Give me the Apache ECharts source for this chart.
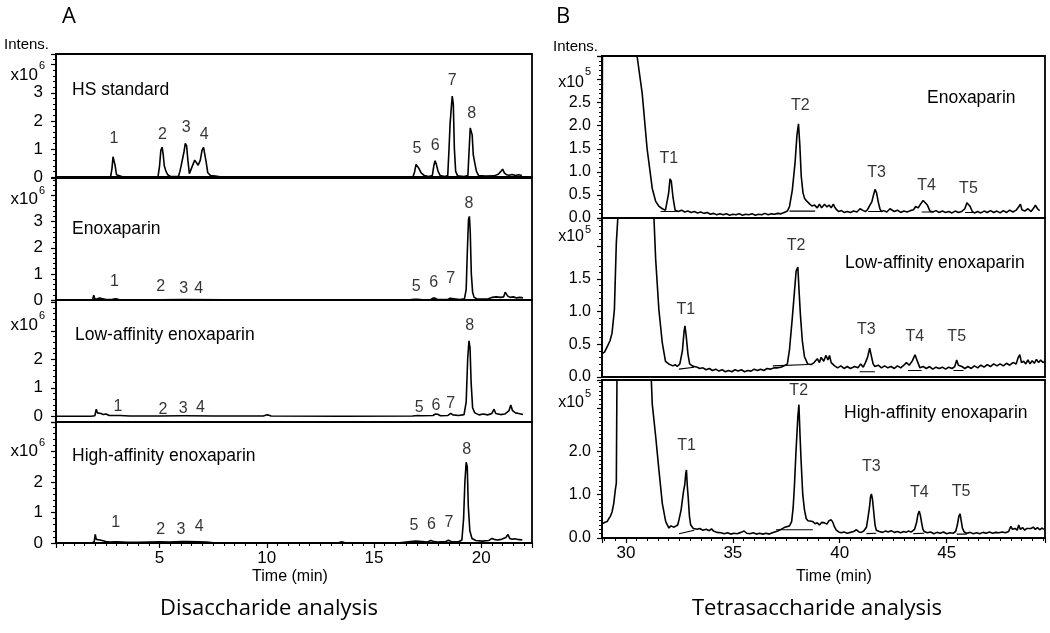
<!DOCTYPE html>
<html><head><meta charset="utf-8">
<script src="https://cdn.jsdelivr.net/npm/echarts/dist/echarts.min.js"></script>
<style>html,body{margin:0;padding:0;background:#fff}#c{width:1050px;height:633px}</style>
</head><body><div id="c"></div>
<script>
// ---------------- DATA ----------------
// Disaccharide analysis (time min, intensity x10^6)
const hsStandard = [[0.2,0],[1.0,0],[1.8,0.01],[2.6,0],[2.72,0.02],[2.78,0.3],[2.83,0.72],[2.88,0.73],[2.93,0.4],[2.99,0.08],[3.08,0.02],[3.3,0],[4.6,0],[4.93,0.02],[5.0,0.4],[5.06,0.95],[5.12,1.06],[5.17,0.8],[5.22,0.4],[5.3,0.2],[5.38,0.08],[5.5,0.02],[5.88,0.02],[5.95,0.2],[6.02,0.45],[6.08,0.5],[6.14,0.9],[6.2,1.2],[6.26,1.12],[6.32,0.6],[6.39,0.12],[6.46,0.1],[6.56,0.45],[6.64,0.6],[6.7,0.55],[6.8,0.42],[6.9,0.6],[6.98,0.95],[7.05,1.06],[7.11,1.0],[7.17,0.55],[7.25,0.15],[7.38,0.05],[7.6,0.03],[7.9,0],[12,0],[16.6,0],[16.82,0.01],[16.9,0.2],[16.96,0.45],[17.02,0.48],[17.1,0.3],[17.2,0.15],[17.35,0.05],[17.55,0.02],[17.72,0.05],[17.79,0.4],[17.85,0.58],[17.91,0.45],[17.99,0.2],[18.09,0.05],[18.3,0.02],[18.44,0.05],[18.5,1.0],[18.55,1.9],[18.6,2.4],[18.65,2.88],[18.7,2.6],[18.75,1.0],[18.81,0.2],[18.9,0.04],[19.2,0.02],[19.38,0.05],[19.44,1.0],[19.49,1.75],[19.54,1.82],[19.58,1.5],[19.63,0.8],[19.7,0.5],[19.78,0.2],[19.88,0.05],[20.2,0.03],[20.6,0.04],[20.8,0.1],[20.92,0.2],[21.0,0.28],[21.08,0.15],[21.18,0.08],[21.3,0.06],[21.45,0.09],[21.6,0.05],[21.75,0.08],[21.9,0.05]];
const enoxDi = [[0.2,0],[1.7,0],[1.88,0.02],[1.93,0.18],[1.98,0.05],[2.08,0.04],[2.2,0.08],[2.28,0.03],[2.5,0.02],[2.8,0.03],[2.88,0.08],[2.96,0.05],[3.1,0.02],[4.0,0.01],[5.0,0.01],[6.05,0.02],[6.13,0.05],[6.2,0.02],[8,0.01],[12,0],[16.6,0],[16.85,0.03],[17.05,0.03],[17.25,0.01],[17.65,0.02],[17.75,0.07],[17.85,0.07],[17.95,0.02],[18.45,0.02],[18.55,0.07],[18.63,0.03],[19.0,0.02],[19.22,0.05],[19.3,0.4],[19.36,2.0],[19.41,3.1],[19.45,3.2],[19.49,2.6],[19.54,1.0],[19.6,0.3],[19.67,0.1],[19.8,0.05],[20.3,0.04],[20.5,0.1],[20.7,0.12],[20.9,0.1],[21.05,0.12],[21.12,0.3],[21.18,0.35],[21.24,0.15],[21.35,0.1],[21.5,0.12],[21.65,0.08],[21.8,0.1],[21.95,0.08]];
const lowDi = [[0.2,0],[1.8,0],[1.98,0.02],[2.05,0.25],[2.1,0.12],[2.18,0.08],[2.27,0.1],[2.37,0.06],[2.5,0.08],[2.65,0.03],[3.0,0.03],[3.08,0.07],[3.16,0.03],[3.6,0.01],[5.0,0.01],[6.02,0.02],[6.1,0.05],[6.2,0.02],[7.5,0.01],[9.85,0.01],[9.98,0.05],[10.1,0.04],[10.2,0.01],[13.5,0],[16.8,0.01],[17.05,0.03],[17.2,0.02],[17.75,0.03],[17.87,0.08],[17.97,0.07],[18.1,0.02],[18.45,0.03],[18.58,0.1],[18.68,0.05],[18.95,0.03],[19.2,0.06],[19.3,0.5],[19.37,2.0],[19.43,2.65],[19.48,2.4],[19.53,1.2],[19.6,0.3],[19.7,0.12],[19.9,0.05],[20.1,0.08],[20.3,0.05],[20.5,0.1],[20.6,0.25],[20.68,0.1],[20.9,0.06],[21.1,0.08],[21.3,0.2],[21.38,0.4],[21.46,0.2],[21.6,0.12],[21.75,0.1],[21.95,0.06]];
const highDi = [[0.2,0],[1.8,0],[1.95,0.03],[2.0,0.28],[2.05,0.12],[2.14,0.06],[2.22,0.1],[2.3,0.04],[2.5,0.05],[2.7,0.03],[2.9,0.04],[2.96,0.1],[3.04,0.04],[3.5,0.02],[4.0,0.02],[4.5,0.03],[5.0,0.04],[5.5,0.03],[6.0,0.05],[6.3,0.05],[6.8,0.04],[7.2,0.03],[7.5,0.01],[10,0.01],[13.35,0.01],[13.5,0.04],[13.65,0.01],[16.2,0.01],[16.6,0.04],[16.95,0.06],[17.25,0.05],[17.5,0.03],[17.65,0.08],[17.75,0.06],[17.95,0.03],[18.35,0.05],[18.47,0.09],[18.6,0.05],[18.95,0.04],[19.1,0.1],[19.18,0.8],[19.24,2.0],[19.3,2.65],[19.35,2.5],[19.4,1.2],[19.47,0.4],[19.57,0.15],[19.75,0.08],[20.05,0.06],[20.35,0.08],[20.5,0.15],[20.6,0.12],[20.75,0.1],[20.95,0.12],[21.15,0.18],[21.25,0.28],[21.33,0.15],[21.45,0.12],[21.55,0.14],[21.68,0.12],[21.8,0.11],[21.92,0.1]];

const hsPeakLabels = [['1',2.87,1.38],['2',5.13,1.5],['3',6.24,1.75],['4',7.08,1.5],['5',17.0,1.0],['6',17.85,1.13],['7',18.65,3.45],['8',19.56,2.25]];
const enoxDiLabels = [['1',2.9,0.7],['2',5.05,0.51],['3',6.13,0.45],['4',6.82,0.45],['5',16.97,0.51],['6',17.78,0.68],['7',18.58,0.81],['8',19.43,3.68]];
const lowDiLabels = [['1',3.06,0.34],['2',5.16,0.22],['3',6.1,0.28],['4',6.91,0.31],['5',17.11,0.31],['6',17.89,0.36],['7',18.58,0.43],['8',19.46,3.19]];
const highDiLabels = [['1',2.95,0.66],['2',5.05,0.44],['3',6.0,0.44],['4',6.85,0.53],['5',16.87,0.57],['6',17.68,0.6],['7',18.5,0.66],['8',19.33,3.08]];

// Tetrasaccharide analysis (time min, intensity x10^5)
const enoxTetra = [[28.88,0.35],[28.9,3.51],[30.52,3.51],[30.76,2.7],[30.99,1.5],[31.23,0.64],[31.39,0.36],[31.55,0.25],[31.7,0.2],[31.85,0.17],[31.93,0.2],[32.0,0.55],[32.06,0.85],[32.12,0.8],[32.2,0.45],[32.3,0.17],[32.45,0.14],[32.6,0.17],[32.75,0.13],[32.9,0.15],[33.05,0.12],[33.2,0.14],[33.35,0.11],[33.5,0.13],[33.65,0.1],[33.8,0.12],[33.95,0.08],[34.1,0.1],[34.25,0.07],[34.4,0.09],[34.55,0.07],[34.7,0.09],[34.85,0.06],[35.0,0.08],[35.15,0.07],[35.3,0.09],[35.45,0.06],[35.6,0.08],[35.75,0.07],[35.9,0.09],[36.05,0.06],[36.2,0.08],[36.35,0.07],[36.5,0.1],[36.65,0.07],[36.8,0.09],[36.95,0.08],[37.1,0.1],[37.25,0.09],[37.4,0.12],[37.55,0.15],[37.65,0.25],[37.78,0.6],[37.91,1.2],[38.0,1.8],[38.07,2.04],[38.13,1.6],[38.2,0.9],[38.28,0.55],[38.35,0.43],[38.43,0.38],[38.51,0.35],[38.6,0.3],[38.7,0.26],[38.82,0.28],[38.95,0.22],[39.05,0.3],[39.15,0.22],[39.29,0.3],[39.4,0.24],[39.5,0.28],[39.6,0.22],[39.7,0.3],[39.76,0.24],[39.85,0.18],[39.95,0.14],[40.08,0.16],[40.2,0.12],[40.35,0.14],[40.5,0.12],[40.65,0.15],[40.8,0.13],[40.95,0.2],[41.02,0.23],[41.1,0.16],[41.2,0.14],[41.3,0.18],[41.41,0.28],[41.5,0.35],[41.58,0.5],[41.65,0.62],[41.72,0.55],[41.8,0.35],[41.88,0.2],[41.95,0.14],[42.05,0.16],[42.2,0.13],[42.35,0.2],[42.42,0.16],[42.55,0.14],[42.7,0.17],[42.85,0.12],[43.0,0.15],[43.15,0.13],[43.3,0.16],[43.45,0.18],[43.55,0.25],[43.67,0.22],[43.78,0.3],[43.9,0.38],[43.99,0.4],[44.1,0.28],[44.22,0.15],[44.35,0.13],[44.5,0.16],[44.65,0.12],[44.8,0.15],[44.95,0.12],[45.1,0.14],[45.25,0.11],[45.4,0.15],[45.55,0.12],[45.7,0.14],[45.85,0.2],[45.95,0.33],[46.02,0.37],[46.1,0.25],[46.2,0.14],[46.3,0.11],[46.45,0.14],[46.6,0.11],[46.75,0.15],[46.9,0.12],[47.05,0.16],[47.2,0.12],[47.35,0.15],[47.5,0.11],[47.65,0.16],[47.8,0.12],[47.95,0.17],[48.1,0.13],[48.25,0.17],[48.38,0.25],[48.45,0.3],[48.52,0.18],[48.65,0.15],[48.8,0.2],[48.95,0.14],[49.08,0.22],[49.15,0.28],[49.25,0.2],[49.35,0.16]];
const lowTetra = [[28.88,0.36],[29.0,0.38],[29.12,0.46],[29.25,0.55],[29.35,0.67],[29.46,1.03],[29.55,2.05],[29.62,2.43],[31.31,2.43],[31.39,1.8],[31.54,1.03],[31.7,0.52],[31.85,0.24],[32.0,0.2],[32.09,0.21],[32.2,0.17],[32.3,0.19],[32.4,0.16],[32.52,0.2],[32.64,0.4],[32.72,0.7],[32.76,0.78],[32.82,0.62],[32.9,0.35],[32.98,0.2],[33.1,0.17],[33.2,0.16],[33.34,0.15],[33.45,0.13],[33.6,0.14],[33.75,0.11],[33.9,0.13],[34.05,0.1],[34.2,0.12],[34.35,0.09],[34.5,0.11],[34.65,0.08],[34.8,0.1],[34.95,0.08],[35.1,0.11],[35.25,0.09],[35.4,0.11],[35.55,0.08],[35.7,0.1],[35.85,0.09],[36.0,0.12],[36.15,0.1],[36.3,0.12],[36.45,0.1],[36.6,0.13],[36.75,0.12],[36.94,0.14],[37.1,0.14],[37.25,0.15],[37.4,0.17],[37.55,0.2],[37.65,0.42],[37.78,0.9],[37.88,1.3],[37.96,1.62],[38.04,1.68],[38.1,1.3],[38.16,0.95],[38.25,0.55],[38.35,0.31],[38.5,0.2],[38.66,0.19],[38.8,0.22],[38.95,0.28],[39.05,0.22],[39.13,0.3],[39.25,0.24],[39.35,0.33],[39.45,0.26],[39.52,0.33],[39.6,0.22],[39.76,0.17],[39.9,0.14],[40.05,0.17],[40.2,0.13],[40.35,0.16],[40.5,0.13],[40.7,0.16],[40.85,0.14],[40.98,0.2],[41.1,0.15],[41.2,0.22],[41.3,0.3],[41.4,0.44],[41.48,0.32],[41.56,0.2],[41.64,0.16],[41.8,0.18],[41.95,0.14],[42.1,0.17],[42.25,0.14],[42.4,0.16],[42.55,0.13],[42.7,0.17],[42.85,0.14],[43.0,0.18],[43.12,0.22],[43.25,0.18],[43.4,0.25],[43.52,0.34],[43.62,0.25],[43.75,0.14],[43.9,0.16],[44.05,0.13],[44.2,0.16],[44.35,0.12],[44.5,0.15],[44.65,0.13],[44.8,0.15],[44.95,0.12],[45.1,0.15],[45.25,0.13],[45.38,0.16],[45.47,0.26],[45.55,0.18],[45.71,0.16],[45.85,0.13],[46.0,0.16],[46.15,0.13],[46.3,0.17],[46.45,0.14],[46.6,0.18],[46.75,0.15],[46.9,0.19],[47.05,0.16],[47.2,0.2],[47.35,0.17],[47.5,0.2],[47.65,0.17],[47.8,0.21],[47.95,0.18],[48.1,0.22],[48.25,0.2],[48.35,0.3],[48.42,0.34],[48.5,0.22],[48.6,0.24],[48.7,0.2],[48.8,0.26],[48.9,0.2],[49.0,0.25],[49.1,0.21],[49.2,0.27],[49.3,0.22],[49.4,0.26],[49.5,0.22],[49.6,0.24]];
const highTetra = [[28.88,0.33],[29.0,0.36],[29.12,0.38],[29.2,0.45],[29.27,0.5],[29.35,0.6],[29.43,0.8],[29.5,1.1],[29.55,1.27],[29.59,4.5],[31.12,4.5],[31.23,3.1],[31.39,2.35],[31.54,1.58],[31.7,0.8],[31.86,0.38],[32.01,0.23],[32.1,0.28],[32.17,0.3],[32.25,0.25],[32.33,0.27],[32.42,0.3],[32.48,0.42],[32.58,0.65],[32.64,0.88],[32.7,1.1],[32.75,1.23],[32.8,1.5],[32.83,1.57],[32.87,1.2],[32.91,0.95],[32.97,0.5],[33.03,0.3],[33.15,0.22],[33.34,0.2],[33.45,0.22],[33.6,0.18],[33.75,0.2],[33.9,0.17],[34.0,0.21],[34.1,0.16],[34.25,0.13],[34.44,0.12],[34.6,0.1],[34.75,0.12],[34.9,0.09],[35.05,0.11],[35.2,0.1],[35.38,0.13],[35.53,0.16],[35.65,0.11],[35.8,0.1],[35.95,0.12],[36.1,0.09],[36.25,0.11],[36.4,0.09],[36.55,0.11],[36.7,0.09],[36.85,0.12],[36.94,0.13],[37.1,0.16],[37.25,0.2],[37.4,0.24],[37.52,0.26],[37.65,0.28],[37.75,0.38],[37.82,0.7],[37.88,1.2],[37.95,1.96],[38.04,2.8],[38.09,3.08],[38.14,2.4],[38.19,1.8],[38.27,1.0],[38.35,0.65],[38.43,0.45],[38.51,0.4],[38.6,0.38],[38.74,0.38],[38.85,0.33],[38.95,0.35],[39.05,0.3],[39.15,0.36],[39.29,0.35],[39.4,0.32],[39.5,0.4],[39.6,0.42],[39.68,0.36],[39.76,0.25],[39.84,0.18],[39.95,0.14],[40.07,0.12],[40.2,0.14],[40.35,0.11],[40.5,0.13],[40.65,0.15],[40.78,0.19],[40.9,0.14],[41.01,0.13],[41.12,0.16],[41.25,0.25],[41.33,0.5],[41.4,0.75],[41.44,0.95],[41.48,1.02],[41.53,0.9],[41.59,0.6],[41.65,0.3],[41.71,0.18],[41.85,0.15],[42.0,0.13],[42.15,0.16],[42.26,0.14],[42.4,0.17],[42.55,0.13],[42.7,0.15],[42.85,0.12],[43.0,0.15],[43.1,0.13],[43.2,0.16],[43.35,0.14],[43.5,0.2],[43.59,0.35],[43.66,0.55],[43.72,0.62],[43.78,0.5],[43.83,0.35],[43.89,0.2],[43.95,0.15],[44.1,0.12],[44.25,0.14],[44.4,0.1],[44.55,0.13],[44.7,0.11],[44.85,0.14],[45.0,0.1],[45.15,0.12],[45.3,0.11],[45.42,0.15],[45.5,0.3],[45.57,0.5],[45.63,0.56],[45.68,0.4],[45.74,0.22],[45.82,0.14],[45.94,0.11],[46.1,0.13],[46.25,0.1],[46.4,0.12],[46.55,0.1],[46.7,0.13],[46.85,0.11],[47.0,0.14],[47.15,0.11],[47.3,0.13],[47.45,0.12],[47.6,0.14],[47.75,0.12],[47.9,0.15],[48.0,0.27],[48.08,0.2],[48.2,0.22],[48.3,0.18],[48.37,0.3],[48.45,0.2],[48.55,0.24],[48.65,0.18],[48.75,0.22],[48.84,0.18],[48.95,0.22],[49.05,0.25],[49.15,0.2],[49.25,0.24],[49.35,0.19],[49.45,0.23],[49.55,0.2]];

const enoxTetraLabels = [['T1',32.01,1.28],['T2',38.16,2.43],['T3',41.72,0.99],['T4',44.06,0.71],['T5',46.02,0.64]];
const lowTetraLabels = [['T1',32.8,1.03],['T2',37.96,2.01],['T3',41.24,0.73],['T4',43.51,0.61],['T5',45.47,0.62]];
const highTetraLabels = [['T1',32.84,2.13],['T2',38.08,3.41],['T3',41.48,1.65],['T4',43.72,1.04],['T5',45.67,1.08]];

// integration baselines drawn under the tetrasaccharide peaks
const enoxTetraBase = [[[31.62,0.14],[32.42,0.14]],[[37.65,0.15],[38.85,0.15]],[[41.33,0.14],[41.95,0.14]],[[43.83,0.13],[44.38,0.13]],[[45.86,0.12],[46.41,0.12]]];
const lowTetraBase = [[[32.48,0.12],[33.19,0.15]],[[36.87,0.17],[38.51,0.19]],[[40.93,0.08],[41.64,0.08]],[[43.2,0.1],[43.83,0.1]],[[45.32,0.1],[45.79,0.1]]];
const highTetraBase = [[[32.48,0.1],[33.2,0.18]],[[37.02,0.19],[38.74,0.19]],[[41.25,0.1],[41.71,0.11]],[[43.44,0.1],[43.95,0.11]],[[45.47,0.09],[45.94,0.09]]];

const leftXTickLabels = [5, 10, 15, 20];
const rightXTickLabels = [30, 35, 40, 45];
const leftYTickLabels = [[0,1,2,3],[0,1,2,3],[0,1,2],[0,1,2]];
const rightYTickLabels = [[0,0.5,1,1.5,2,2.5],[0,0.5,1,1.5],[0,1,2]];

// ---------------- LAYOUT ----------------
const SANS = '"Liberation Sans", Arial, Helvetica, sans-serif';
const CAP = '"Open Sans", "Noto Sans", sans-serif';
const K = '#000';

const leftPanels = [
  {trace: hsStandard, peaks: hsPeakLabels, yMin:0, yMax:4.38, yInt:1, top:54, height:123},
  {trace: enoxDi, peaks: enoxDiLabels, yMin:0, yMax:4.67, yInt:1, top:178, height:122},
  {trace: lowDi, peaks: lowDiLabels, yMin:-0.2, yMax:4.08, yInt:null, top:300, height:122},
  {trace: highDi, peaks: highDiLabels, yMin:0, yMax:3.97, yInt:1, top:422, height:121}
];
const rightPanels = [
  {trace: enoxTetra, peaks: enoxTetraLabels, base: enoxTetraBase, yMin:0, yMax:3.51, yInt:0.5, minorSplit:5, top:56, height:162},
  {trace: lowTetra, peaks: lowTetraLabels, base: lowTetraBase, yMin:0, yMax:2.43, yInt:0.5, minorSplit:5, top:218, height:159},
  {trace: highTetra, peaks: highTetraLabels, base: highTetraBase, yMin:0, yMax:3.65, yInt:1, minorSplit:10, top:380, height:158}
];

const grids = [], xAxes = [], yAxes = [], series = [];
const inList = (list, v) => list.some(l => Math.abs(l - v) < 1e-6);

function addPanel(p, idx, side, isBottom, yLabels) {
  const L = side === 'L';
  grids.push({left: L ? 56 : 602, width: L ? 476 : 443, top: p.top, height: p.height,
    show: true, borderColor: K, borderWidth: 1.8, backgroundColor: 'transparent',
    containLabel: false, outerBoundsMode: 'none'});
  const xr = L ? [0.17, 22.37] : [28.88, 49.6];
  const xl = L ? leftXTickLabels : rightXTickLabels;
  xAxes.push({type: 'value', gridIndex: idx, min: xr[0], max: xr[1],
    axisLine: {show: true, onZero: false, lineStyle: {color: K, width: 1.8}},
    axisTick: {show: isBottom, length: 5, lineStyle: {color: K, width: 1.2}},
    minorTick: {show: isBottom, splitNumber: 10, length: 3, lineStyle: {color: K, width: 1}},
    axisLabel: {show: isBottom, color: K, fontSize: 17, fontFamily: SANS, margin: 7,
      showMinLabel: false, showMaxLabel: false,
      formatter: v => inList(xl, v) ? String(Math.round(v)) : ''},
    splitLine: {show: false}});
  const y = {type: 'value', gridIndex: idx, min: p.yMin, max: p.yMax,
    axisLine: {show: true, onZero: false, lineStyle: {color: K, width: 1.8}},
    axisTick: {show: true, length: 5, lineStyle: {color: K, width: 1.2}},
    minorTick: {show: true, splitNumber: p.minorSplit || 5, length: 3, lineStyle: {color: K, width: 1}},
    axisLabel: {color: K, fontSize: L ? 17 : 16, fontFamily: SANS, margin: L ? 13 : 11,
      showMinLabel: true, showMaxLabel: false,
      formatter: v => inList(yLabels, v) ? (L ? String(Math.round(v)) : v.toFixed(1)) : ''},
    splitLine: {show: false}};
  if (p.yInt) y.interval = p.yInt; else y.splitNumber = 4;
  yAxes.push(y);
  series.push({type: 'line', xAxisIndex: idx, yAxisIndex: idx, data: p.trace, symbol: 'none',
    showSymbol: false, clip: true, silent: true, animation: false, z: 3,
    lineStyle: {color: K, width: 1.6}});
  (p.base || []).forEach(seg => series.push({type: 'line', xAxisIndex: idx, yAxisIndex: idx,
    data: seg, symbol: 'none', clip: true, silent: true, animation: false, z: 3,
    lineStyle: {color: K, width: 1.1}}));
  series.push({type: 'scatter', xAxisIndex: idx, yAxisIndex: idx, silent: true, animation: false, z: 4,
    data: p.peaks.map(([n, t, v]) => ({name: n, value: [t, v]})),
    symbolSize: 1, itemStyle: {color: 'rgba(0,0,0,0)'},
    label: {show: true, position: 'inside', formatter: '{b}', color: K, fontSize: 16, fontFamily: SANS}});
}

leftPanels.forEach((p, i) => addPanel(p, i, 'L', i === 3, leftYTickLabels[i]));
rightPanels.forEach((p, i) => addPanel(p, 4 + i, 'R', i === 2, rightYTickLabels[i]));

function txt(text, x, y, font, align) {
  return {type: 'text', x: x, y: y, silent: true, z: 10,
    style: {text: text, fill: K, font: font, align: align || 'left', verticalAlign: 'middle'}};
}
const graphics = [
  txt('A', 69, 17, '22px ' + CAP, 'center'),
  txt('B', 563, 17, '22px ' + CAP, 'center'),
  txt('Intens.', 4, 45, '15px ' + SANS, 'left'),
  txt('Intens.', 553, 47, '15px ' + SANS, 'left'),
  txt('x10', 38, 75, '17px ' + SANS, 'right'), txt('6', 42, 66, '11px ' + SANS, 'center'),
  txt('x10', 38, 199, '17px ' + SANS, 'right'), txt('6', 42, 191, '11px ' + SANS, 'center'),
  txt('x10', 38, 325, '17px ' + SANS, 'right'), txt('6', 42, 316, '11px ' + SANS, 'center'),
  txt('x10', 38, 451, '17px ' + SANS, 'right'), txt('6', 42, 443, '11px ' + SANS, 'center'),
  txt('x10', 584, 83, '16px ' + SANS, 'right'), txt('5', 588, 72, '11px ' + SANS, 'center'),
  txt('x10', 584, 237, '16px ' + SANS, 'right'), txt('5', 588, 230, '11px ' + SANS, 'center'),
  txt('x10', 584, 403, '16px ' + SANS, 'right'), txt('5', 588, 394, '11px ' + SANS, 'center'),
  txt('HS standard', 72, 90, '17.5px ' + SANS),
  txt('Enoxaparin', 72, 229, '17.5px ' + SANS),
  txt('Low-affinity enoxaparin', 75, 335, '17.5px ' + SANS),
  txt('High-affinity enoxaparin', 72, 456, '17.5px ' + SANS),
  txt('Enoxaparin', 927, 98, '17.5px ' + SANS),
  txt('Low-affinity enoxaparin', 845, 263, '17.5px ' + SANS),
  txt('High-affinity enoxaparin', 844, 413, '17.5px ' + SANS),
  txt('Time (min)', 290, 577, '16px ' + SANS, 'center'),
  txt('Time (min)', 834, 577, '16px ' + SANS, 'center'),
  txt('Disaccharide analysis', 269, 609, '22px ' + CAP, 'center'),
  txt('Tetrasaccharide analysis', 817, 609, '22px ' + CAP, 'center')
];

const chart = echarts.init(document.getElementById('c'), null, {renderer: 'canvas'});
chart.setOption({
  backgroundColor: '#fff',
  animation: false,
  grid: grids, xAxis: xAxes, yAxis: yAxes, series: series,
  graphic: graphics
});
</script></body></html>
